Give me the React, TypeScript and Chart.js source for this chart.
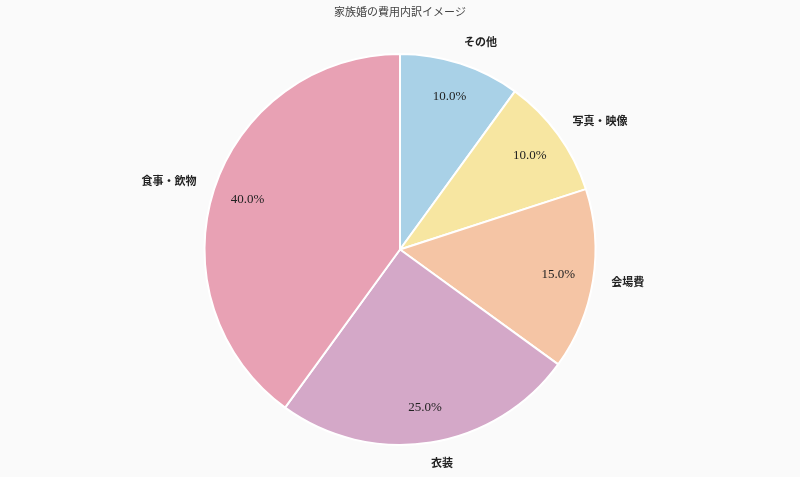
import React, { useEffect, useRef } from "react";
import { Chart, registerables } from "chart.js";

Chart.register(...registerables);

const TITLE = "家族婚の費用内訳イメージ";
const categories = ["その他", "写真・映像", "会場費", "衣装", "食事・飲物"];
const shares = [10, 10, 15, 25, 40];
const colors = ["#a9d1e7", "#f7e6a1", "#f5c5a5", "#d4a8c8", "#e8a1b4"];

const FONT = "'Liberation Serif', 'DejaVu Serif', 'Noto Sans CJK JP', serif";

const labelPlugin = {
  id: "pieLabels",
  afterDatasetsDraw(chart: any) {
    const ctx = chart.ctx;
    const meta = chart.getDatasetMeta(0);
    ctx.save();
    meta.data.forEach((arc: any, i: number) => {
      const { x, y, startAngle, endAngle, outerRadius } = arc.getProps(
        ["x", "y", "startAngle", "endAngle", "outerRadius"],
        true
      );
      const mid = (startAngle + endAngle) / 2;
      const cos = Math.cos(mid);
      const sin = Math.sin(mid);
      ctx.fillStyle = "#222";
      ctx.font = `13px ${FONT}`;
      ctx.textAlign = "center";
      ctx.textBaseline = "middle";
      const pr = outerRadius * 0.82;
      ctx.fillText(`${shares[i].toFixed(1)}%`, x + cos * pr, y + sin * pr);
      const lr = outerRadius * 1.11;
      ctx.font = `600 11px ${FONT}`;
      ctx.textAlign = cos >= 0 ? "left" : "right";
      ctx.fillStyle = "#222";
      ctx.fillText(categories[i], x + cos * lr + (cos >= 0 ? -3 : 3), y + sin * lr);
    });
    ctx.font = `11px ${FONT}`;
    ctx.fillStyle = "#444";
    ctx.textAlign = "center";
    ctx.textBaseline = "middle";
    ctx.fillText(TITLE, chart.width / 2, 13);
    ctx.restore();
  },
};

export default function App() {
  const ref = useRef<HTMLCanvasElement | null>(null);
  useEffect(() => {
    document.body.style.margin = "0";
    document.body.style.background = "#fafafa";
    const chart = new Chart(ref.current!, {
      type: "pie",
      data: {
        labels: categories,
        datasets: [
          {
            data: shares,
            backgroundColor: colors,
            borderColor: "#ffffff",
            borderWidth: 2,
          },
        ],
      },
      options: {
        animation: false,
        responsive: false,
        rotation: 0,
        layout: { padding: { top: 53, bottom: 31, left: 0, right: 0 } },
        plugins: {
          legend: { display: false },
          tooltip: { enabled: false },
          title: { display: false },
        },
      },
      plugins: [labelPlugin],
    });
    return () => chart.destroy();
  }, []);
  return (
    <div style={{ width: 800, height: 477, background: "#fafafa" }}>
      <canvas ref={ref} width={800} height={477} style={{ width: 800, height: 477, display: "block" }} />
    </div>
  );
}
